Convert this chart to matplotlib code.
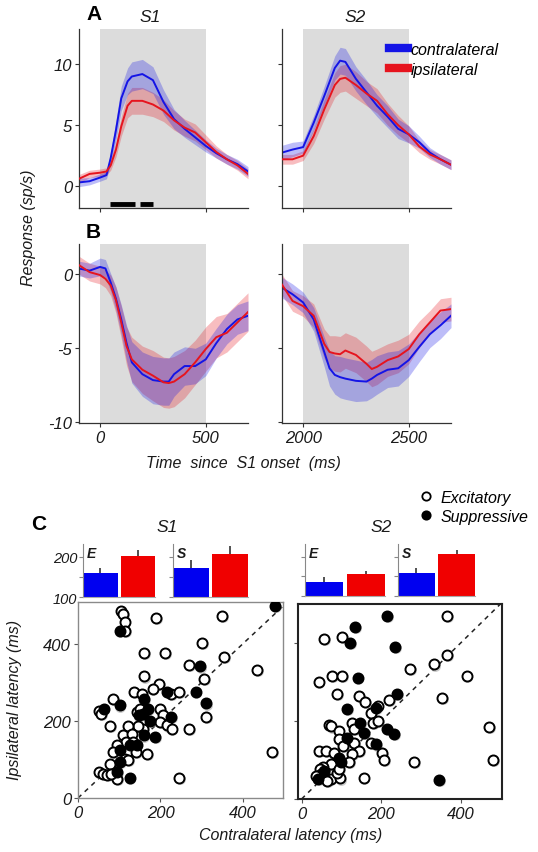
import matplotlib
matplotlib.use("Agg")
import matplotlib.pyplot as plt
from matplotlib.lines import Line2D
import numpy as np

plt.rcParams['font.family'] = ['Liberation Sans', 'DejaVu Sans']
plt.rcParams['font.style'] = 'italic'
plt.rcParams['axes.unicode_minus'] = False

W, H = 538, 853

# ---------------- data ----------------
# Panel A, S1
tA1 = [-100, -50, 0, 30, 50, 75, 100, 130, 150, 200, 250, 300, 350, 400, 450, 500, 550, 600, 650, 700]
A1_contra = [0.3, 0.4, 0.7, 0.9, 2.3, 4.6, 7.2, 8.6, 9.0, 9.2, 8.7, 6.9, 5.5, 4.7, 4.0, 3.3, 2.7, 2.2, 1.8, 1.2]
A1_contra_se = [0.35, 0.3, 0.3, 0.3, 0.5, 0.8, 1.0, 1.1, 1.2, 1.2, 1.1, 1.0, 0.8, 0.7, 0.6, 0.5, 0.4, 0.4, 0.4, 0.4]
A1_ipsi = [0.6, 1.0, 1.1, 1.2, 1.7, 3.0, 4.9, 6.6, 7.0, 7.0, 6.7, 6.2, 5.4, 4.8, 4.4, 3.6, 2.8, 2.2, 1.7, 1.0]
A1_ipsi_se = [0.35, 0.3, 0.3, 0.3, 0.4, 0.6, 0.8, 1.0, 1.1, 1.1, 1.0, 0.9, 0.8, 0.7, 0.7, 0.6, 0.5, 0.4, 0.4, 0.4]
sig_start = [48, 190]
sig_end = [167, 248]

# Panel A, S2
tA2 = [1900, 1950, 2000, 2050, 2100, 2150, 2175, 2200, 2250, 2300, 2350, 2400, 2450, 2500, 2550, 2600, 2650, 2700]
A2_contra = [2.75, 3.0, 3.2, 5.2, 7.4, 9.7, 10.3, 10.2, 8.8, 7.7, 6.6, 5.7, 4.7, 4.25, 3.6, 2.75, 2.2, 1.75]
A2_contra_se = [0.6, 0.6, 0.5, 0.6, 0.8, 1.0, 1.1, 1.1, 1.0, 1.0, 0.9, 0.9, 0.8, 0.7, 0.5, 0.4, 0.4, 0.4]
A2_ipsi = [2.2, 2.2, 2.5, 4.1, 6.3, 8.3, 8.8, 8.9, 8.3, 7.6, 7.0, 5.9, 5.0, 4.25, 3.25, 2.6, 2.2, 1.75]
A2_ipsi_se = [0.4, 0.4, 0.4, 0.6, 0.8, 1.0, 1.1, 1.1, 1.1, 1.0, 1.0, 0.9, 0.8, 0.7, 0.5, 0.4, 0.4, 0.4]

# Panel B, S1
tB1 = [-100, -50, 0, 25, 50, 75, 100, 125, 150, 200, 250, 300, 325, 350, 400, 450, 500, 550, 600, 650, 700]
B1_contra = [0.34, 0.2, 0.45, 0.35, -0.6, -1.7, -3.1, -4.7, -6.0, -6.8, -7.2, -7.3, -7.3, -6.8, -6.25, -6.25, -5.8, -4.7, -3.75, -3.1, -2.85]
B1_contra_se = [0.5, 0.5, 0.6, 0.6, 0.6, 0.8, 1.0, 1.2, 1.4, 1.5, 1.6, 1.6, 1.6, 1.5, 1.3, 1.2, 1.1, 1.0, 1.0, 1.0, 1.0]
B1_ipsi = [0.57, 0.1, -0.1, -0.35, -0.8, -1.8, -3.3, -4.9, -5.8, -6.5, -6.9, -7.35, -7.4, -7.3, -6.8, -6.0, -5.1, -4.3, -4.0, -3.3, -2.6]
B1_ipsi_se = [0.6, 0.6, 0.6, 0.6, 0.7, 0.9, 1.1, 1.3, 1.5, 1.6, 1.7, 1.7, 1.7, 1.7, 1.6, 1.5, 1.5, 1.4, 1.3, 1.3, 1.3]

# Panel B, S2
tB2 = [1900, 1950, 2000, 2050, 2100, 2125, 2150, 2175, 2200, 2250, 2300, 2325, 2350, 2400, 2450, 2500, 2550, 2600, 2650, 2700]
B2_contra = [-0.95, -1.4, -1.95, -3.1, -5.3, -6.4, -6.85, -7.0, -7.1, -7.25, -7.3, -7.1, -6.85, -6.5, -6.4, -5.85, -4.95, -4.1, -3.5, -2.85]
B2_contra_se = [0.7, 0.7, 0.7, 0.8, 1.0, 1.2, 1.3, 1.4, 1.4, 1.4, 1.3, 1.3, 1.3, 1.2, 1.2, 1.1, 1.0, 0.9, 0.9, 0.8]
B2_ipsi = [-0.75, -1.85, -2.2, -2.85, -4.75, -5.3, -5.4, -5.45, -5.2, -5.5, -6.1, -6.45, -6.3, -5.85, -5.6, -5.1, -4.1, -3.3, -2.5, -2.4]
B2_ipsi_se = [0.7, 0.7, 0.7, 0.8, 1.0, 1.1, 1.2, 1.2, 1.2, 1.2, 1.2, 1.2, 1.2, 1.1, 1.1, 1.0, 0.9, 0.8, 0.8, 0.8]

# Panel C bars: mean latency (ms) and upper error
bar_groups = ['E', 'S']
S1_bar_contra = [160, 172]
S1_bar_contra_err = [12, 20]
S1_bar_ipsi = [202, 207]
S1_bar_ipsi_err = [15, 20]
S2_bar_contra = [136, 159]
S2_bar_contra_err = [12, 11]
S2_bar_ipsi = [155, 207]
S2_bar_ipsi_err = [9, 11]

# Panel C scatter: (contralateral latency, ipsilateral latency)
S1_exc_x = [105, 110, 113, 115, 189, 349, 300, 161, 211, 354, 434, 269, 161, 305, 196, 181, 136, 156, 225, 245,
            86, 52, 56, 310, 142, 150, 199, 205, 199, 215, 227, 269, 158, 145, 121, 77, 110, 130, 117, 134,
            94, 86, 118, 141, 168, 113, 121, 77, 50, 60, 70, 94, 246, 80, 470]
S1_exc_y = [484, 478, 456, 432, 467, 473, 403, 377, 377, 365, 331, 346, 315, 309, 296, 282, 275, 270, 270, 275,
            256, 225, 219, 210, 223, 230, 230, 214, 197, 188, 180, 180, 180, 186, 186, 186, 162, 167, 145, 145,
            137, 119, 119, 119, 115, 102, 98, 89, 67, 63, 59, 50, 52, 63, 119]
S1_sup_x = [101, 478, 295, 215, 285, 161, 101, 62, 310, 169, 147, 158, 225, 175, 187, 159, 142, 126, 102, 102, 94, 125]
S1_sup_y = [432, 498, 341, 275, 275, 256, 240, 230, 245, 230, 214, 219, 210, 200, 158, 162, 137, 137, 124, 93, 67, 52]

S2_exc_x = [365, 57, 102, 365, 334, 273, 415, 43, 76, 102, 89, 145, 160, 220, 354, 191, 174, 180, 193, 128,
            133, 68, 74, 93, 95, 133, 105, 174, 145, 128, 119, 43, 61, 82, 75, 55, 46, 73, 96, 88,
            95, 156, 203, 208, 283, 471, 482, 50, 65, 36]
S2_exc_y = [470, 410, 415, 370, 345, 334, 315, 300, 315, 315, 270, 264, 249, 255, 260, 238, 220, 196, 200, 196,
            179, 189, 186, 175, 153, 143, 136, 143, 123, 115, 95, 123, 123, 119, 89, 81, 77, 51, 53, 66,
            78, 54, 117, 100, 95, 185, 100, 64, 47, 60]
S2_sup_x = [216, 134, 123, 236, 141, 241, 115, 187, 147, 157, 216, 233, 115, 187, 94, 98, 57, 42, 345]
S2_sup_y = [470, 441, 400, 390, 310, 270, 232, 234, 196, 169, 180, 166, 157, 140, 106, 94, 72, 51, 49]

BLUE = '#1414e6'
RED = '#e6141e'
BAR_BLUE = '#0000f0'
BAR_RED = '#f00000'
SHADE = '#dcdcdc'
TXT = '#1a1a1a'


def box(l, t, r, b):
    return [l / W, 1 - b / H, (r - l) / W, (b - t) / H]


def fx(x):
    return x / W


def fy(y):
    return 1 - y / H


fig = plt.figure(figsize=(W / 100, H / 100), dpi=100)


def style_trace_ax(ax, xl, yl, show_ylab, show_xlab, yticks, xticks):
    ax.set_xlim(*xl)
    ax.set_ylim(*yl)
    for s in ['top', 'right']:
        ax.spines[s].set_visible(False)
    for s in ['left', 'bottom']:
        ax.spines[s].set_color('#333333')
        ax.spines[s].set_linewidth(0.9)
    ax.set_yticks(yticks)
    ax.set_xticks(xticks)
    ax.tick_params(direction='out', length=3, width=0.8, color='#333333',
                   labelsize=12, labelcolor=TXT, pad=2)
    if not show_ylab:
        ax.set_yticklabels([])
    if not show_xlab:
        ax.set_xticklabels([])
    ax.patch.set_alpha(0)


def draw_traces(ax, t, c, cse, i, ise, onset):
    ax.axvspan(onset, onset + 500, color=SHADE, lw=0, zorder=0)
    t = np.array(t)
    c, cse, i, ise = map(np.array, (c, cse, i, ise))
    ax.fill_between(t, i - ise, i + ise, color=RED, alpha=0.28, lw=0, zorder=1)
    ax.fill_between(t, c - cse, c + cse, color=BLUE, alpha=0.28, lw=0, zorder=1)
    ax.plot(t, i, color=RED, lw=1.4, zorder=3)
    ax.plot(t, c, color=BLUE, lw=1.4, zorder=2)


axA1 = fig.add_axes(box(79, 30, 248, 209))
draw_traces(axA1, tA1, A1_contra, A1_contra_se, A1_ipsi, A1_ipsi_se, 0)
for s0, s1 in zip(sig_start, sig_end):
    axA1.plot([s0, s1], [-1.5, -1.5], color='black', lw=3.5, solid_capstyle='butt', zorder=4)
style_trace_ax(axA1, (-100, 700), (-1.8, 12.9), True, False, [0, 5, 10], [0, 500])

axA2 = fig.add_axes(box(282, 30, 451, 209))
draw_traces(axA2, tA2, A2_contra, A2_contra_se, A2_ipsi, A2_ipsi_se, 2000)
style_trace_ax(axA2, (1900, 2700), (-1.8, 12.9), False, False, [0, 5, 10], [2000, 2500])

axB1 = fig.add_axes(box(79, 245, 248, 424))
draw_traces(axB1, tB1, B1_contra, B1_contra_se, B1_ipsi, B1_ipsi_se, 0)
style_trace_ax(axB1, (-100, 700), (-10.1, 2.0), True, True, [-10, -5, 0], [0, 500])

axB2 = fig.add_axes(box(282, 245, 451, 424))
draw_traces(axB2, tB2, B2_contra, B2_contra_se, B2_ipsi, B2_ipsi_se, 2000)
style_trace_ax(axB2, (1900, 2700), (-10.1, 2.0), False, True, [-10, -5, 0], [2000, 2500])

# legend for traces
handles = [Line2D([0], [0], color=BLUE, lw=6), Line2D([0], [0], color=RED, lw=6)]
fig.legend(handles, ['contralateral', 'ipsilateral'], loc='upper left',
           bbox_to_anchor=(fx(381), fy(35)), frameon=False, fontsize=11.5,
           handlelength=1.2, handletextpad=0.15, labelspacing=0.3, borderpad=0)

# texts for top part
fig.text(fx(94), fy(15), 'A', fontsize=15, fontweight='bold', style='normal', ha='center', va='center')
fig.text(fx(93), fy(232), 'B', fontsize=15, fontweight='bold', style='normal', ha='center', va='center')
fig.text(fx(150), fy(17), 'S1', fontsize=12.5, ha='center', va='center', color=TXT)
fig.text(fx(355), fy(17), 'S2', fontsize=12.5, ha='center', va='center', color=TXT)
fig.text(fx(29), fy(228), 'Response (sp/s)', fontsize=11.5, rotation=90, ha='center', va='center', color=TXT)
fig.text(fx(243), fy(464), 'Time  since  S1 onset  (ms)', fontsize=11.5, ha='center', va='center', color=TXT)

# ---------------- Panel C bars ----------------


def draw_bars(rect, cvals, cerr, ivals, ierr, letter, show_lab):
    ax = fig.add_axes(rect)
    x = np.arange(2)
    ax.bar(x, [cvals, ivals], width=0.92, color=[BAR_BLUE, BAR_RED], bottom=0, zorder=2)
    ax.errorbar(x, [cvals, ivals], yerr=[[0, 0], [cerr, ierr]], fmt='none', ecolor='#333333',
                elinewidth=1.2, capsize=0, zorder=3)
    ax.set_xlim(-0.46, 1.46)
    ax.set_ylim(100, 232)
    for s in ['top', 'right']:
        ax.spines[s].set_visible(False)
    ax.spines['left'].set_color('#888888')
    ax.spines['bottom'].set_color('#aaaaaa')
    ax.spines['left'].set_linewidth(0.8)
    ax.spines['bottom'].set_linewidth(0.8)
    ax.set_xticks([])
    ax.set_yticks([100, 150, 200])
    ax.tick_params(axis='y', direction='out', length=3, width=0.8, color='#888888',
                   labelsize=10.5, labelcolor=TXT, pad=1)
    if show_lab:
        ax.set_yticklabels(['100', '', '200'])
    else:
        ax.set_yticklabels([])
    ax.text(0.05, 0.97, letter, transform=ax.transAxes, fontsize=10, fontweight='bold',
            ha='left', va='top', color=TXT)
    ax.patch.set_alpha(0)
    return ax


draw_bars(box(83, 545, 155, 598), S1_bar_contra[0], S1_bar_contra_err[0], S1_bar_ipsi[0], S1_bar_ipsi_err[0], bar_groups[0], True)
draw_bars(box(173, 545, 248, 598), S1_bar_contra[1], S1_bar_contra_err[1], S1_bar_ipsi[1], S1_bar_ipsi_err[1], bar_groups[1], False)
draw_bars(box(305, 545, 385, 597), S2_bar_contra[0], S2_bar_contra_err[0], S2_bar_ipsi[0], S2_bar_ipsi_err[0], bar_groups[0], False)
draw_bars(box(398, 545, 475, 597), S2_bar_contra[1], S2_bar_contra_err[1], S2_bar_ipsi[1], S2_bar_ipsi_err[1], bar_groups[1], False)

# ---------------- Panel C scatter ----------------


def draw_scatter(rect, ex, ey, sx, sy, xl, yl, show_ylab, spine_col, spine_w):
    ax = fig.add_axes(rect)
    ax.plot([0, 520], [0, 520], ls=(0, (3, 3)), color='#222222', lw=1.1, zorder=1)
    ax.scatter(np.array(ex) + 2, np.array(ey) - 3, s=62, color='#a8a8a8', lw=0, zorder=2, alpha=0.6)
    ax.scatter(np.array(sx) + 2, np.array(sy) - 3, s=62, color='#a8a8a8', lw=0, zorder=2, alpha=0.6)
    ax.scatter(ex, ey, s=52, facecolor='white', edgecolor='black', lw=1.4, zorder=3)
    ax.scatter(sx, sy, s=52, facecolor='black', edgecolor='black', lw=1.4, zorder=4)
    ax.set_xlim(*xl)
    ax.set_ylim(*yl)
    for s in ax.spines.values():
        s.set_color(spine_col)
        s.set_linewidth(spine_w)
    ax.set_xticks([0, 200, 400])
    ax.set_yticks([0, 200, 400])
    ax.tick_params(direction='out', length=3, width=0.8, color='#555555',
                   labelsize=12, labelcolor=TXT, pad=2)
    if not show_ylab:
        ax.set_yticklabels([])
    return ax


draw_scatter(box(78, 603, 283, 799), S1_exc_x, S1_exc_y, S1_sup_x, S1_sup_y,
             (0, 497), (0, 508), True, '#8a8a8a', 1.0)
draw_scatter(box(298, 605, 502, 800), S2_exc_x, S2_exc_y, S2_sup_x, S2_sup_y,
             (-9, 504), (0, 500), False, '#222222', 1.5)

fig.text(fx(39), fy(525), 'C', fontsize=15, fontweight='bold', style='normal', ha='center', va='center')
fig.text(fx(167), fy(527), 'S1', fontsize=12.5, ha='center', va='center', color=TXT)
fig.text(fx(381), fy(527), 'S2', fontsize=12.5, ha='center', va='center', color=TXT)
fig.text(fx(15), fy(700), 'Ipsilateral latency (ms)', fontsize=11.5, rotation=90, ha='center', va='center', color=TXT)
fig.text(fx(291), fy(836), 'Contralateral latency (ms)', fontsize=11.5, ha='center', va='center', color=TXT)

# scatter legend
leg_handles = [Line2D([0], [0], marker='o', ls='none', markerfacecolor='white', markeredgecolor='black',
                      markersize=6, markeredgewidth=1.3),
               Line2D([0], [0], marker='o', ls='none', markerfacecolor='black', markeredgecolor='black',
                      markersize=6, markeredgewidth=1.3)]
fig.legend(leg_handles, ['Excitatory', 'Suppressive'], loc='upper left',
           bbox_to_anchor=(fx(410), fy(483)), frameon=False, fontsize=11.5,
           handlelength=1.0, handletextpad=0.4, labelspacing=0.25, borderpad=0)

fig.savefig('out.png', dpi=100)
